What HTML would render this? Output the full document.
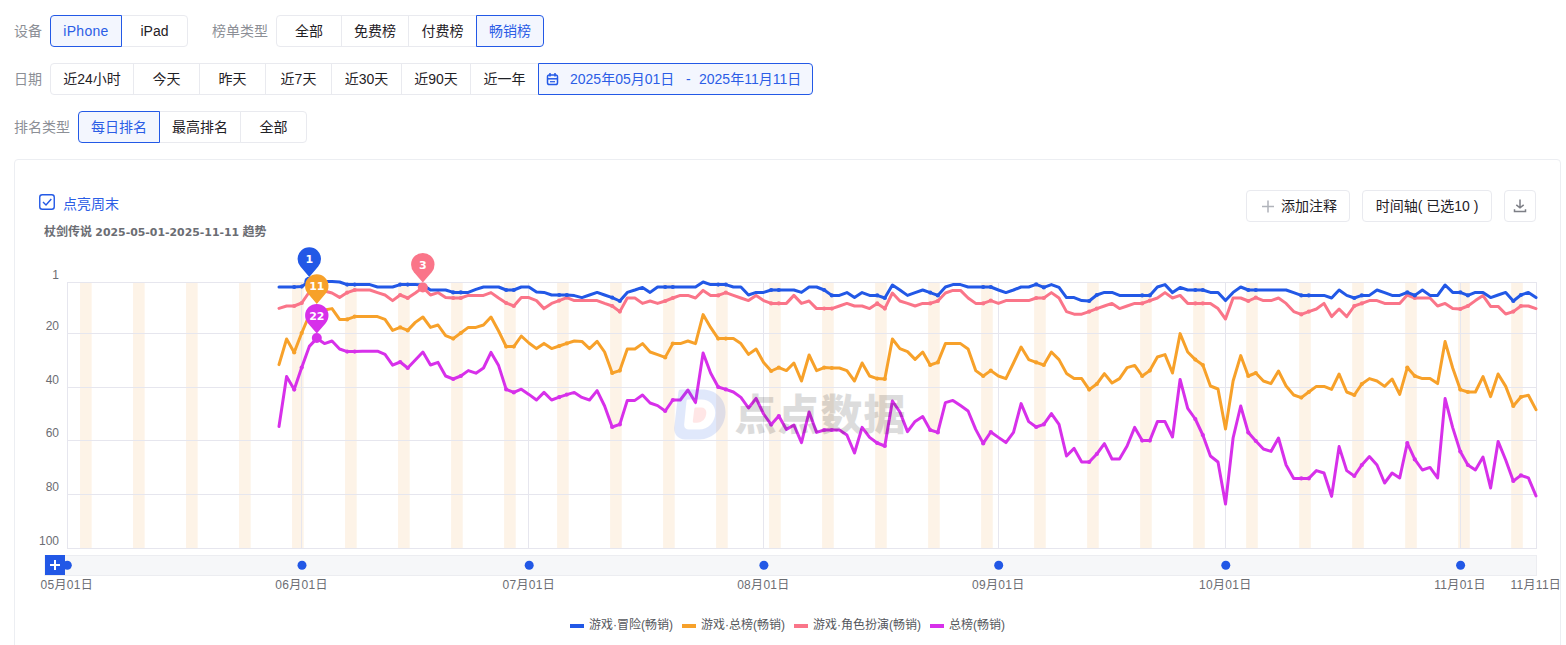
<!DOCTYPE html><html lang="zh-CN"><head><meta charset="utf-8"><title>趋势</title><style>
*{box-sizing:border-box;margin:0;padding:0}
html,body{width:1566px;height:645px;overflow:hidden;background:#fff}
body{font-family:"Liberation Sans","Noto Sans CJK SC",sans-serif;font-size:14px;color:#222;position:relative}
.lbl{position:absolute;left:14px;height:32px;line-height:32px;font-size:14px;color:#8c8f96;white-space:nowrap}
.b{position:absolute;height:32px;line-height:30px;border:1px solid #e9eaef;background:#fff;text-align:center;font-size:14px;color:#1f2126;white-space:nowrap}
.b.f{border-radius:4px 0 0 4px}
.b.l{border-radius:0 4px 4px 0}
.b.a{border-color:#2359e6;background:#f3f6fe;color:#2b5de6;z-index:2}
.card{position:absolute;left:14px;top:159px;width:1547px;height:520px;border:1px solid #eceef2;border-radius:4px;background:#fff}
.btn{position:absolute;top:190px;height:32px;line-height:30px;border:1px solid #e9eaef;border-radius:4px;background:#fff;font-size:14px;color:#1f2126;text-align:center;white-space:nowrap}
svg{position:absolute;left:0;top:0;z-index:5}
svg text{font-family:"Liberation Sans","Noto Sans CJK SC",sans-serif}
</style></head><body>
<div class="lbl" style="top:15px">设备</div>
<div class="b a f" style="left:50px;top:15px;width:72px"><span style="letter-spacing:.3px">iPhone</span></div>
<div class="b l" style="left:121px;top:15px;width:67px">iPad</div>
<div class="lbl" style="top:15px;left:212px">榜单类型</div>
<div class="b f" style="left:276px;top:15px;width:66px">全部</div>
<div class="b " style="left:341px;top:15px;width:68px">免费榜</div>
<div class="b " style="left:408px;top:15px;width:69px">付费榜</div>
<div class="b a l" style="left:476px;top:15px;width:68px">畅销榜</div>
<div class="lbl" style="top:63px">日期</div>
<div class="b f" style="left:50px;top:63px;width:84px">近24小时</div>
<div class="b " style="left:133px;top:63px;width:67px">今天</div>
<div class="b " style="left:199px;top:63px;width:67px">昨天</div>
<div class="b " style="left:265px;top:63px;width:67px">近7天</div>
<div class="b " style="left:331px;top:63px;width:71px">近30天</div>
<div class="b " style="left:401px;top:63px;width:70px">近90天</div>
<div class="b " style="left:470px;top:63px;width:69px">近一年</div>
<div class="b a l" style="left:538px;top:63px;width:275px;text-align:left"><span style="position:absolute;left:31px;top:0">2025年05月01日</span><span style="position:absolute;left:147px;top:0">-</span><span style="position:absolute;left:160px;top:0">2025年11月11日</span></div>
<div class="lbl" style="top:111px">排名类型</div>
<div class="b a f" style="left:78px;top:111px;width:82px">每日排名</div>
<div class="b " style="left:159px;top:111px;width:82px">最高排名</div>
<div class="b l" style="left:240px;top:111px;width:67px">全部</div>
<div class="card"></div>
<div style="position:absolute;left:63px;top:195px;height:18px;line-height:18px;font-size:14px;color:#2b5de6">点亮周末</div>
<div style="position:absolute;left:44px;top:224px;height:16px;line-height:16px;font-size:12px;font-weight:bold;color:#6b6d73;white-space:nowrap">杖剑传说 <span style="font-family:'DejaVu Sans',sans-serif;font-size:10.9px">2025-05-01-2025-11-11</span> 趋势</div>
<div class="btn" style="left:1246px;width:104px;padding-left:22px">添加注释</div>
<div class="btn" style="left:1362px;width:130px">时间轴( 已选10 )</div>
<div class="btn" style="left:1504px;width:32px"></div>
<svg width="1566" height="645" viewBox="0 0 1566 645">
<g fill="none" stroke="#2359e6" stroke-width="1.5"><rect x="547.5" y="75" width="10" height="9.5" rx="1.8"/><line x1="550" y1="73" x2="550" y2="76.5"/><line x1="555" y1="73" x2="555" y2="76.5"/><line x1="547.5" y1="78.8" x2="557.5" y2="78.8"/><line x1="550" y1="81.7" x2="555" y2="81.7" stroke-width="1.2"/></g>
<rect x="39.75" y="194.75" width="14.5" height="14.5" rx="2.5" fill="#fff" stroke="#2359e6" stroke-width="1.4"/><path d="M43 202 L46 205 L51.3 199" fill="none" stroke="#2359e6" stroke-width="1.4"/>
<path d="M1262 206.5h12M1268 200.5v12" stroke="#b0b3ba" stroke-width="1.5" fill="none"/>
<path d="M1520 199.5v8M1516.3 204.8l3.7 3l3.7-3M1514.5 209.2v2.3h11v-2.3" stroke="#7d7f86" stroke-width="1.5" fill="none"/>
<rect x="80.05" y="282.5" width="11.60" height="266.0" fill="#fdf3e7"/>
<rect x="133.06" y="282.5" width="11.60" height="266.0" fill="#fdf3e7"/>
<rect x="186.06" y="282.5" width="11.60" height="266.0" fill="#fdf3e7"/>
<rect x="239.07" y="282.5" width="11.60" height="266.0" fill="#fdf3e7"/>
<rect x="292.07" y="282.5" width="11.60" height="266.0" fill="#fdf3e7"/>
<rect x="345.08" y="282.5" width="11.60" height="266.0" fill="#fdf3e7"/>
<rect x="398.08" y="282.5" width="11.60" height="266.0" fill="#fdf3e7"/>
<rect x="451.09" y="282.5" width="11.60" height="266.0" fill="#fdf3e7"/>
<rect x="504.09" y="282.5" width="11.60" height="266.0" fill="#fdf3e7"/>
<rect x="557.10" y="282.5" width="11.60" height="266.0" fill="#fdf3e7"/>
<rect x="610.10" y="282.5" width="11.60" height="266.0" fill="#fdf3e7"/>
<rect x="663.11" y="282.5" width="11.60" height="266.0" fill="#fdf3e7"/>
<rect x="716.11" y="282.5" width="11.60" height="266.0" fill="#fdf3e7"/>
<rect x="769.12" y="282.5" width="11.60" height="266.0" fill="#fdf3e7"/>
<rect x="822.12" y="282.5" width="11.60" height="266.0" fill="#fdf3e7"/>
<rect x="875.13" y="282.5" width="11.60" height="266.0" fill="#fdf3e7"/>
<rect x="928.13" y="282.5" width="11.60" height="266.0" fill="#fdf3e7"/>
<rect x="981.14" y="282.5" width="11.60" height="266.0" fill="#fdf3e7"/>
<rect x="1034.14" y="282.5" width="11.60" height="266.0" fill="#fdf3e7"/>
<rect x="1087.15" y="282.5" width="11.60" height="266.0" fill="#fdf3e7"/>
<rect x="1140.15" y="282.5" width="11.60" height="266.0" fill="#fdf3e7"/>
<rect x="1193.16" y="282.5" width="11.60" height="266.0" fill="#fdf3e7"/>
<rect x="1246.16" y="282.5" width="11.60" height="266.0" fill="#fdf3e7"/>
<rect x="1299.17" y="282.5" width="11.60" height="266.0" fill="#fdf3e7"/>
<rect x="1352.17" y="282.5" width="11.60" height="266.0" fill="#fdf3e7"/>
<rect x="1405.18" y="282.5" width="11.60" height="266.0" fill="#fdf3e7"/>
<rect x="1458.19" y="282.5" width="11.60" height="266.0" fill="#fdf3e7"/>
<rect x="1511.19" y="282.5" width="11.60" height="266.0" fill="#fdf3e7"/>
<line x1="67.0" x2="1537.0" y1="282.5" y2="282.5" stroke="#e6e6ee" stroke-width="1"/>
<line x1="67.0" x2="1537.0" y1="333.5" y2="333.5" stroke="#e6e6ee" stroke-width="1"/>
<line x1="67.0" x2="1537.0" y1="387.5" y2="387.5" stroke="#e6e6ee" stroke-width="1"/>
<line x1="67.0" x2="1537.0" y1="440.5" y2="440.5" stroke="#e6e6ee" stroke-width="1"/>
<line x1="67.0" x2="1537.0" y1="494.5" y2="494.5" stroke="#e6e6ee" stroke-width="1"/>
<line x1="67.0" x2="1537.0" y1="548.5" y2="548.5" stroke="#e6e6ee" stroke-width="1"/>
<line x1="67.5" x2="67.5" y1="282.5" y2="548.5" stroke="#e6e6ee" stroke-width="1"/>
<line x1="301.5" x2="301.5" y1="282.5" y2="548.5" stroke="#e6e6ee" stroke-width="1"/>
<line x1="528.5" x2="528.5" y1="282.5" y2="548.5" stroke="#e6e6ee" stroke-width="1"/>
<line x1="763.5" x2="763.5" y1="282.5" y2="548.5" stroke="#e6e6ee" stroke-width="1"/>
<line x1="998.5" x2="998.5" y1="282.5" y2="548.5" stroke="#e6e6ee" stroke-width="1"/>
<line x1="1225.5" x2="1225.5" y1="282.5" y2="548.5" stroke="#e6e6ee" stroke-width="1"/>
<line x1="1460.5" x2="1460.5" y1="282.5" y2="548.5" stroke="#e6e6ee" stroke-width="1"/>
<line x1="1536.5" x2="1536.5" y1="282.5" y2="548.5" stroke="#e6e6ee" stroke-width="1"/>
<text x="59" y="279.0" font-size="12" fill="#6b6d73" text-anchor="end">1</text>
<text x="59" y="330.0" font-size="12" fill="#6b6d73" text-anchor="end">20</text>
<text x="59" y="384.0" font-size="12" fill="#6b6d73" text-anchor="end">40</text>
<text x="59" y="437.0" font-size="12" fill="#6b6d73" text-anchor="end">60</text>
<text x="59" y="491.0" font-size="12" fill="#6b6d73" text-anchor="end">80</text>
<text x="59" y="545.0" font-size="12" fill="#6b6d73" text-anchor="end">100</text>
<polyline fill="none" stroke="#d730ea" stroke-width="3" stroke-linejoin="round" stroke-linecap="round" points="279.0,426.4 286.6,376.4 294.2,389.6 301.7,367.6 309.3,346.4 316.9,338.4 324.5,343.6 332.0,341.0 339.6,349.0 347.2,351.6 354.7,351.6 362.3,351.2 369.9,351.2 377.5,351.2 385.0,354.4 392.6,365.2 400.2,362.0 407.7,368.0 415.3,360.0 422.9,352.0 430.5,365.0 438.0,362.4 445.6,376.0 453.2,379.0 460.8,376.0 468.3,370.6 475.9,373.2 483.5,368.0 491.0,352.4 498.6,365.6 506.2,389.4 513.8,392.4 521.3,389.2 528.9,394.4 536.5,400.0 544.0,392.4 551.6,400.0 559.2,397.2 566.8,394.6 574.3,392.4 581.9,397.4 589.5,400.0 597.1,390.6 604.6,406.0 612.2,427.0 619.8,424.4 627.3,400.4 634.9,400.4 642.5,395.0 650.1,403.0 657.6,405.6 665.2,411.0 672.8,400.0 680.3,400.0 687.9,390.0 695.5,402.6 703.1,353.0 710.6,373.0 718.2,387.0 725.8,389.4 733.4,392.0 740.9,397.4 748.5,408.0 756.1,398.4 763.6,414.0 771.2,424.6 778.8,416.0 786.4,429.4 793.9,425.0 801.5,442.6 809.1,412.0 816.6,432.4 824.2,430.0 831.8,430.0 839.4,430.0 846.9,435.0 854.5,453.0 862.1,427.4 869.6,437.4 877.2,443.0 884.8,446.0 892.4,401.0 899.9,412.0 907.5,431.6 915.1,421.4 922.7,416.6 930.2,430.0 937.8,432.4 945.4,402.6 952.9,400.4 960.5,405.6 968.1,411.0 975.7,429.4 983.2,443.4 990.8,432.0 998.4,437.4 1005.9,442.6 1013.5,432.4 1021.1,403.6 1028.7,421.6 1036.2,427.0 1043.8,424.4 1051.4,413.6 1059.0,424.4 1066.5,456.0 1074.1,448.4 1081.7,462.0 1089.2,462.0 1096.8,454.0 1104.4,443.6 1112.0,459.0 1119.5,459.0 1127.1,446.0 1134.7,427.4 1142.2,440.6 1149.8,440.6 1157.4,421.6 1165.0,421.6 1172.5,437.0 1180.1,379.4 1187.7,408.4 1195.3,419.0 1202.8,435.0 1210.4,456.0 1218.0,462.0 1225.5,504.0 1233.1,438.0 1240.7,406.0 1248.3,432.6 1255.8,441.0 1263.4,449.0 1271.0,451.4 1278.5,438.0 1286.1,465.0 1293.7,478.4 1301.3,478.4 1308.8,478.4 1316.4,470.6 1324.0,473.0 1331.6,496.4 1339.1,446.6 1346.7,470.6 1354.3,476.0 1361.8,465.0 1369.4,456.6 1377.0,465.0 1384.6,483.0 1392.1,473.0 1399.7,478.0 1407.3,443.0 1414.8,459.4 1422.4,470.0 1430.0,467.4 1437.6,478.0 1445.1,398.6 1452.7,427.6 1460.3,451.6 1467.9,465.0 1475.4,470.0 1483.0,457.0 1490.6,488.0 1498.1,441.4 1505.7,460.0 1513.3,481.0 1520.9,475.4 1528.4,477.9 1536.0,495.9"/><g fill="#d730ea"><circle cx="294.2" cy="389.6" r="2.1"/><circle cx="301.7" cy="367.6" r="2.1"/><circle cx="347.2" cy="351.6" r="2.1"/><circle cx="354.7" cy="351.6" r="2.1"/><circle cx="400.2" cy="362.0" r="2.1"/><circle cx="407.7" cy="368.0" r="2.1"/><circle cx="453.2" cy="379.0" r="2.1"/><circle cx="460.8" cy="376.0" r="2.1"/><circle cx="506.2" cy="389.4" r="2.1"/><circle cx="513.8" cy="392.4" r="2.1"/><circle cx="559.2" cy="397.2" r="2.1"/><circle cx="566.8" cy="394.6" r="2.1"/><circle cx="612.2" cy="427.0" r="2.1"/><circle cx="619.8" cy="424.4" r="2.1"/><circle cx="665.2" cy="411.0" r="2.1"/><circle cx="672.8" cy="400.0" r="2.1"/><circle cx="718.2" cy="387.0" r="2.1"/><circle cx="725.8" cy="389.4" r="2.1"/><circle cx="771.2" cy="424.6" r="2.1"/><circle cx="778.8" cy="416.0" r="2.1"/><circle cx="824.2" cy="430.0" r="2.1"/><circle cx="831.8" cy="430.0" r="2.1"/><circle cx="877.2" cy="443.0" r="2.1"/><circle cx="884.8" cy="446.0" r="2.1"/><circle cx="930.2" cy="430.0" r="2.1"/><circle cx="937.8" cy="432.4" r="2.1"/><circle cx="983.2" cy="443.4" r="2.1"/><circle cx="990.8" cy="432.0" r="2.1"/><circle cx="1036.2" cy="427.0" r="2.1"/><circle cx="1043.8" cy="424.4" r="2.1"/><circle cx="1089.2" cy="462.0" r="2.1"/><circle cx="1096.8" cy="454.0" r="2.1"/><circle cx="1142.2" cy="440.6" r="2.1"/><circle cx="1149.8" cy="440.6" r="2.1"/><circle cx="1195.3" cy="419.0" r="2.1"/><circle cx="1202.8" cy="435.0" r="2.1"/><circle cx="1248.3" cy="432.6" r="2.1"/><circle cx="1255.8" cy="441.0" r="2.1"/><circle cx="1301.3" cy="478.4" r="2.1"/><circle cx="1308.8" cy="478.4" r="2.1"/><circle cx="1354.3" cy="476.0" r="2.1"/><circle cx="1361.8" cy="465.0" r="2.1"/><circle cx="1407.3" cy="443.0" r="2.1"/><circle cx="1414.8" cy="459.4" r="2.1"/><circle cx="1460.3" cy="451.6" r="2.1"/><circle cx="1467.9" cy="465.0" r="2.1"/><circle cx="1513.3" cy="481.0" r="2.1"/><circle cx="1520.9" cy="475.4" r="2.1"/></g>
<polyline fill="none" stroke="#f7a12a" stroke-width="3" stroke-linejoin="round" stroke-linecap="round" points="279.0,364.6 286.6,339.0 294.2,352.4 301.7,333.0 309.3,315.0 316.9,309.0 324.5,310.0 332.0,308.6 339.6,319.4 347.2,319.4 354.7,316.6 362.3,316.6 369.9,316.6 377.5,316.6 385.0,319.4 392.6,330.4 400.2,327.4 407.7,330.4 415.3,322.4 422.9,317.0 430.5,327.4 438.0,325.0 445.6,335.6 453.2,338.6 460.8,333.0 468.3,327.4 475.9,327.4 483.5,325.0 491.0,317.0 498.6,331.0 506.2,346.6 513.8,346.6 521.3,336.0 528.9,343.0 536.5,348.6 544.0,343.4 551.6,348.6 559.2,346.0 566.8,343.4 574.3,341.0 581.9,341.4 589.5,348.6 597.1,341.4 604.6,352.0 612.2,373.0 619.8,370.6 627.3,349.0 634.9,349.0 642.5,343.6 650.1,352.0 657.6,354.6 665.2,357.4 672.8,343.6 680.3,343.6 687.9,341.0 695.5,343.6 703.1,314.6 710.6,327.4 718.2,338.6 725.8,338.6 733.4,338.6 740.9,343.6 748.5,354.4 756.1,349.0 763.6,362.4 771.2,371.0 778.8,367.6 786.4,370.6 793.9,363.0 801.5,381.0 809.1,355.0 816.6,370.6 824.2,367.6 831.8,368.0 839.4,368.0 846.9,370.6 854.5,381.0 862.1,363.0 869.6,376.0 877.2,378.6 884.8,379.0 892.4,339.0 899.9,348.6 907.5,351.6 915.1,359.4 922.7,352.0 930.2,365.0 937.8,362.4 945.4,343.6 952.9,343.6 960.5,343.6 968.1,349.0 975.7,370.6 983.2,376.0 990.8,370.6 998.4,376.0 1005.9,378.6 1013.5,363.0 1021.1,347.0 1028.7,359.6 1036.2,362.4 1043.8,365.0 1051.4,352.0 1059.0,359.6 1066.5,373.4 1074.1,378.6 1081.7,378.6 1089.2,389.6 1096.8,384.0 1104.4,373.6 1112.0,383.0 1119.5,378.6 1127.1,367.6 1134.7,365.4 1142.2,376.0 1149.8,370.6 1157.4,357.0 1165.0,354.6 1172.5,373.0 1180.1,333.6 1187.7,352.0 1195.3,359.6 1202.8,365.0 1210.4,386.0 1218.0,389.0 1225.5,429.0 1233.1,381.0 1240.7,355.6 1248.3,376.0 1255.8,373.0 1263.4,381.0 1271.0,383.6 1278.5,371.0 1286.1,386.0 1293.7,395.0 1301.3,397.6 1308.8,392.0 1316.4,386.4 1324.0,386.4 1331.6,389.4 1339.1,374.0 1346.7,392.0 1354.3,395.0 1361.8,384.0 1369.4,378.6 1377.0,381.0 1384.6,386.4 1392.1,379.0 1399.7,394.4 1407.3,367.6 1414.8,376.0 1422.4,378.6 1430.0,378.6 1437.6,383.6 1445.1,341.6 1452.7,368.0 1460.3,389.6 1467.9,392.0 1475.4,392.0 1483.0,376.6 1490.6,396.6 1498.1,374.0 1505.7,386.4 1513.3,406.0 1520.9,397.0 1528.4,395.2 1536.0,409.6"/><g fill="#f7a12a"><circle cx="294.2" cy="352.4" r="2.1"/><circle cx="301.7" cy="333.0" r="2.1"/><circle cx="347.2" cy="319.4" r="2.1"/><circle cx="354.7" cy="316.6" r="2.1"/><circle cx="400.2" cy="327.4" r="2.1"/><circle cx="407.7" cy="330.4" r="2.1"/><circle cx="453.2" cy="338.6" r="2.1"/><circle cx="460.8" cy="333.0" r="2.1"/><circle cx="506.2" cy="346.6" r="2.1"/><circle cx="513.8" cy="346.6" r="2.1"/><circle cx="559.2" cy="346.0" r="2.1"/><circle cx="566.8" cy="343.4" r="2.1"/><circle cx="612.2" cy="373.0" r="2.1"/><circle cx="619.8" cy="370.6" r="2.1"/><circle cx="665.2" cy="357.4" r="2.1"/><circle cx="672.8" cy="343.6" r="2.1"/><circle cx="718.2" cy="338.6" r="2.1"/><circle cx="725.8" cy="338.6" r="2.1"/><circle cx="771.2" cy="371.0" r="2.1"/><circle cx="778.8" cy="367.6" r="2.1"/><circle cx="824.2" cy="367.6" r="2.1"/><circle cx="831.8" cy="368.0" r="2.1"/><circle cx="877.2" cy="378.6" r="2.1"/><circle cx="884.8" cy="379.0" r="2.1"/><circle cx="930.2" cy="365.0" r="2.1"/><circle cx="937.8" cy="362.4" r="2.1"/><circle cx="983.2" cy="376.0" r="2.1"/><circle cx="990.8" cy="370.6" r="2.1"/><circle cx="1036.2" cy="362.4" r="2.1"/><circle cx="1043.8" cy="365.0" r="2.1"/><circle cx="1089.2" cy="389.6" r="2.1"/><circle cx="1096.8" cy="384.0" r="2.1"/><circle cx="1142.2" cy="376.0" r="2.1"/><circle cx="1149.8" cy="370.6" r="2.1"/><circle cx="1195.3" cy="359.6" r="2.1"/><circle cx="1202.8" cy="365.0" r="2.1"/><circle cx="1248.3" cy="376.0" r="2.1"/><circle cx="1255.8" cy="373.0" r="2.1"/><circle cx="1301.3" cy="397.6" r="2.1"/><circle cx="1308.8" cy="392.0" r="2.1"/><circle cx="1354.3" cy="395.0" r="2.1"/><circle cx="1361.8" cy="384.0" r="2.1"/><circle cx="1407.3" cy="367.6" r="2.1"/><circle cx="1414.8" cy="376.0" r="2.1"/><circle cx="1460.3" cy="389.6" r="2.1"/><circle cx="1467.9" cy="392.0" r="2.1"/><circle cx="1513.3" cy="406.0" r="2.1"/><circle cx="1520.9" cy="397.0" r="2.1"/></g>
<polyline fill="none" stroke="#fa7589" stroke-width="3" stroke-linejoin="round" stroke-linecap="round" points="279.0,308.4 286.6,306.0 294.2,306.0 301.7,303.0 309.3,292.0 316.9,288.0 324.5,291.0 332.0,293.0 339.6,297.4 347.2,292.6 354.7,290.0 362.3,290.0 369.9,290.0 377.5,292.6 385.0,295.0 392.6,300.6 400.2,295.0 407.7,298.0 415.3,293.0 422.9,287.4 430.5,295.0 438.0,292.6 445.6,297.6 453.2,298.0 460.8,298.0 468.3,295.4 475.9,295.4 483.5,295.4 491.0,292.6 498.6,298.0 506.2,303.0 513.8,306.0 521.3,297.6 528.9,297.6 536.5,300.6 544.0,308.6 551.6,303.4 559.2,300.6 566.8,297.6 574.3,300.6 581.9,300.6 589.5,300.6 597.1,300.6 604.6,303.4 612.2,306.0 619.8,311.6 627.3,298.0 634.9,298.0 642.5,303.4 650.1,301.0 657.6,303.4 665.2,301.0 672.8,298.0 680.3,295.4 687.9,295.4 695.5,298.0 703.1,290.4 710.6,295.4 718.2,295.4 725.8,292.6 733.4,295.4 740.9,298.0 748.5,300.6 756.1,295.4 763.6,300.6 771.2,303.4 778.8,303.4 786.4,303.4 793.9,295.4 801.5,303.4 809.1,301.0 816.6,308.6 824.2,308.6 831.8,308.6 839.4,306.0 846.9,303.4 854.5,306.0 862.1,306.0 869.6,308.6 877.2,303.4 884.8,308.6 892.4,293.0 899.9,301.0 907.5,303.4 915.1,306.0 922.7,303.4 930.2,303.4 937.8,301.0 945.4,293.0 952.9,290.4 960.5,290.4 968.1,298.0 975.7,303.4 983.2,303.4 990.8,300.6 998.4,303.4 1005.9,300.6 1013.5,300.6 1021.1,300.6 1028.7,300.6 1036.2,298.0 1043.8,298.0 1051.4,292.6 1059.0,298.0 1066.5,311.6 1074.1,314.2 1081.7,314.2 1089.2,311.6 1096.8,308.6 1104.4,306.0 1112.0,303.4 1119.5,308.6 1127.1,306.0 1134.7,303.4 1142.2,303.4 1149.8,300.6 1157.4,298.0 1165.0,292.6 1172.5,298.0 1180.1,295.4 1187.7,303.4 1195.3,303.4 1202.8,303.4 1210.4,303.4 1218.0,308.6 1225.5,319.0 1233.1,298.0 1240.7,298.0 1248.3,301.0 1255.8,297.6 1263.4,300.6 1271.0,300.6 1278.5,298.0 1286.1,303.4 1293.7,311.6 1301.3,314.4 1308.8,311.6 1316.4,309.0 1324.0,303.4 1331.6,316.6 1339.1,309.0 1346.7,316.6 1354.3,306.0 1361.8,303.4 1369.4,300.6 1377.0,300.6 1384.6,303.4 1392.1,303.4 1399.7,303.4 1407.3,295.0 1414.8,298.0 1422.4,298.0 1430.0,298.0 1437.6,306.0 1445.1,303.4 1452.7,308.6 1460.3,309.0 1467.9,306.0 1475.4,300.6 1483.0,295.6 1490.6,306.4 1498.1,306.4 1505.7,314.0 1513.3,311.6 1520.9,306.0 1528.4,306.0 1536.0,308.6"/><g fill="#fa7589"><circle cx="294.2" cy="306.0" r="2.1"/><circle cx="301.7" cy="303.0" r="2.1"/><circle cx="347.2" cy="292.6" r="2.1"/><circle cx="354.7" cy="290.0" r="2.1"/><circle cx="400.2" cy="295.0" r="2.1"/><circle cx="407.7" cy="298.0" r="2.1"/><circle cx="453.2" cy="298.0" r="2.1"/><circle cx="460.8" cy="298.0" r="2.1"/><circle cx="506.2" cy="303.0" r="2.1"/><circle cx="513.8" cy="306.0" r="2.1"/><circle cx="559.2" cy="300.6" r="2.1"/><circle cx="566.8" cy="297.6" r="2.1"/><circle cx="612.2" cy="306.0" r="2.1"/><circle cx="619.8" cy="311.6" r="2.1"/><circle cx="665.2" cy="301.0" r="2.1"/><circle cx="672.8" cy="298.0" r="2.1"/><circle cx="718.2" cy="295.4" r="2.1"/><circle cx="725.8" cy="292.6" r="2.1"/><circle cx="771.2" cy="303.4" r="2.1"/><circle cx="778.8" cy="303.4" r="2.1"/><circle cx="824.2" cy="308.6" r="2.1"/><circle cx="831.8" cy="308.6" r="2.1"/><circle cx="877.2" cy="303.4" r="2.1"/><circle cx="884.8" cy="308.6" r="2.1"/><circle cx="930.2" cy="303.4" r="2.1"/><circle cx="937.8" cy="301.0" r="2.1"/><circle cx="983.2" cy="303.4" r="2.1"/><circle cx="990.8" cy="300.6" r="2.1"/><circle cx="1036.2" cy="298.0" r="2.1"/><circle cx="1043.8" cy="298.0" r="2.1"/><circle cx="1089.2" cy="311.6" r="2.1"/><circle cx="1096.8" cy="308.6" r="2.1"/><circle cx="1142.2" cy="303.4" r="2.1"/><circle cx="1149.8" cy="300.6" r="2.1"/><circle cx="1195.3" cy="303.4" r="2.1"/><circle cx="1202.8" cy="303.4" r="2.1"/><circle cx="1248.3" cy="301.0" r="2.1"/><circle cx="1255.8" cy="297.6" r="2.1"/><circle cx="1301.3" cy="314.4" r="2.1"/><circle cx="1308.8" cy="311.6" r="2.1"/><circle cx="1354.3" cy="306.0" r="2.1"/><circle cx="1361.8" cy="303.4" r="2.1"/><circle cx="1407.3" cy="295.0" r="2.1"/><circle cx="1414.8" cy="298.0" r="2.1"/><circle cx="1460.3" cy="309.0" r="2.1"/><circle cx="1467.9" cy="306.0" r="2.1"/><circle cx="1513.3" cy="311.6" r="2.1"/><circle cx="1520.9" cy="306.0" r="2.1"/></g>
<polyline fill="none" stroke="#2258e6" stroke-width="3" stroke-linejoin="round" stroke-linecap="round" points="279.0,287.0 286.6,287.0 294.2,287.0 301.7,286.6 309.3,281.6 316.9,281.6 324.5,281.6 332.0,281.6 339.6,282.0 347.2,284.6 354.7,284.6 362.3,284.6 369.9,284.6 377.5,287.0 385.0,287.0 392.6,287.0 400.2,284.6 407.7,284.6 415.3,284.6 422.9,285.0 430.5,290.0 438.0,290.0 445.6,290.0 453.2,292.4 460.8,292.4 468.3,292.4 475.9,289.4 483.5,287.0 491.0,287.0 498.6,287.0 506.2,290.0 513.8,290.0 521.3,287.0 528.9,287.0 536.5,292.0 544.0,292.4 551.6,295.0 559.2,295.0 566.8,295.0 574.3,295.6 581.9,297.6 589.5,295.0 597.1,292.4 604.6,295.0 612.2,297.6 619.8,301.0 627.3,292.4 634.9,290.0 642.5,287.4 650.1,292.4 657.6,287.0 665.2,287.0 672.8,287.0 680.3,287.0 687.9,287.0 695.5,287.0 703.1,282.0 710.6,284.6 718.2,284.6 725.8,284.6 733.4,287.0 740.9,287.0 748.5,295.0 756.1,292.4 763.6,292.4 771.2,290.0 778.8,290.0 786.4,290.0 793.9,290.0 801.5,292.4 809.1,287.0 816.6,287.0 824.2,290.0 831.8,295.4 839.4,295.4 846.9,292.6 854.5,297.6 862.1,292.6 869.6,295.4 877.2,295.4 884.8,298.0 892.4,285.0 899.9,290.0 907.5,295.4 915.1,292.6 922.7,290.0 930.2,292.6 937.8,295.4 945.4,287.0 952.9,284.6 960.5,284.6 968.1,287.0 975.7,287.0 983.2,287.0 990.8,287.0 998.4,290.0 1005.9,292.6 1013.5,290.0 1021.1,287.0 1028.7,287.0 1036.2,284.4 1043.8,287.4 1051.4,284.6 1059.0,287.4 1066.5,297.6 1074.1,297.6 1081.7,300.6 1089.2,301.0 1096.8,295.0 1104.4,292.4 1112.0,292.4 1119.5,295.4 1127.1,295.4 1134.7,295.4 1142.2,295.4 1149.8,295.4 1157.4,287.0 1165.0,284.6 1172.5,292.6 1180.1,287.4 1187.7,290.0 1195.3,290.0 1202.8,290.0 1210.4,292.4 1218.0,292.4 1225.5,300.6 1233.1,292.4 1240.7,287.0 1248.3,290.0 1255.8,290.0 1263.4,290.0 1271.0,290.0 1278.5,290.0 1286.1,290.0 1293.7,292.6 1301.3,295.4 1308.8,295.4 1316.4,295.4 1324.0,295.4 1331.6,298.0 1339.1,290.0 1346.7,295.4 1354.3,298.0 1361.8,295.4 1369.4,295.4 1377.0,290.0 1384.6,292.6 1392.1,295.4 1399.7,295.4 1407.3,292.4 1414.8,295.4 1422.4,290.0 1430.0,295.4 1437.6,295.4 1445.1,285.0 1452.7,292.4 1460.3,292.4 1467.9,295.4 1475.4,292.4 1483.0,292.4 1490.6,297.6 1498.1,295.0 1505.7,292.4 1513.3,301.0 1520.9,295.0 1528.4,292.4 1536.0,297.6"/><g fill="#2258e6"><circle cx="294.2" cy="287.0" r="2.1"/><circle cx="301.7" cy="286.6" r="2.1"/><circle cx="347.2" cy="284.6" r="2.1"/><circle cx="354.7" cy="284.6" r="2.1"/><circle cx="400.2" cy="284.6" r="2.1"/><circle cx="407.7" cy="284.6" r="2.1"/><circle cx="453.2" cy="292.4" r="2.1"/><circle cx="460.8" cy="292.4" r="2.1"/><circle cx="506.2" cy="290.0" r="2.1"/><circle cx="513.8" cy="290.0" r="2.1"/><circle cx="559.2" cy="295.0" r="2.1"/><circle cx="566.8" cy="295.0" r="2.1"/><circle cx="612.2" cy="297.6" r="2.1"/><circle cx="619.8" cy="301.0" r="2.1"/><circle cx="665.2" cy="287.0" r="2.1"/><circle cx="672.8" cy="287.0" r="2.1"/><circle cx="718.2" cy="284.6" r="2.1"/><circle cx="725.8" cy="284.6" r="2.1"/><circle cx="771.2" cy="290.0" r="2.1"/><circle cx="778.8" cy="290.0" r="2.1"/><circle cx="824.2" cy="290.0" r="2.1"/><circle cx="831.8" cy="295.4" r="2.1"/><circle cx="877.2" cy="295.4" r="2.1"/><circle cx="884.8" cy="298.0" r="2.1"/><circle cx="930.2" cy="292.6" r="2.1"/><circle cx="937.8" cy="295.4" r="2.1"/><circle cx="983.2" cy="287.0" r="2.1"/><circle cx="990.8" cy="287.0" r="2.1"/><circle cx="1036.2" cy="284.4" r="2.1"/><circle cx="1043.8" cy="287.4" r="2.1"/><circle cx="1089.2" cy="301.0" r="2.1"/><circle cx="1096.8" cy="295.0" r="2.1"/><circle cx="1142.2" cy="295.4" r="2.1"/><circle cx="1149.8" cy="295.4" r="2.1"/><circle cx="1195.3" cy="290.0" r="2.1"/><circle cx="1202.8" cy="290.0" r="2.1"/><circle cx="1248.3" cy="290.0" r="2.1"/><circle cx="1255.8" cy="290.0" r="2.1"/><circle cx="1301.3" cy="295.4" r="2.1"/><circle cx="1308.8" cy="295.4" r="2.1"/><circle cx="1354.3" cy="298.0" r="2.1"/><circle cx="1361.8" cy="295.4" r="2.1"/><circle cx="1407.3" cy="292.4" r="2.1"/><circle cx="1414.8" cy="295.4" r="2.1"/><circle cx="1460.3" cy="292.4" r="2.1"/><circle cx="1467.9" cy="295.4" r="2.1"/><circle cx="1513.3" cy="301.0" r="2.1"/><circle cx="1520.9" cy="295.0" r="2.1"/></g>
<g opacity="0.135"><path fill-rule="evenodd" fill="#2258e6" d="M681,389.5 H702 C716,389.5 725.5,399 725.5,412 C725.5,427 713,439.5 699,439.5 H685 C678,439.5 673.5,434 674.3,427 L678.3,393 C678.6,390.5 679,389.5 681,389.5 Z M688.5,399.5 H701.5 C709.5,399.5 715.3,405 715.3,412.7 C715.3,422 708,429.5 699.3,429.5 H689 C685.5,429.5 683.8,427.5 684.2,424 L686.4,402 C686.6,400 687,399.5 688.5,399.5 Z"/><path fill="#ff4d4d" d="M696,407.5 H701 C704.5,407.5 706.3,409.5 706.3,412.5 C706.3,418.5 702,422.8 697,422.8 H694.5 C693.2,422.8 692.7,422 692.9,420.5 L694.3,409 C694.5,408 695,407.5 696,407.5 Z"/></g>
<text x="734.5" y="430" font-size="42" font-weight="900" fill="#000" opacity="0.135" textLength="171" lengthAdjust="spacing" style="font-family:'Noto Sans CJK SC',sans-serif">点点数据</text>
<path d="M300.41,266.61 A11.7 11.7 0 1 1 318.19,266.61 L309.3,277 Z" fill="#2258e6"/><circle cx="309.3" cy="281.8" r="5" fill="#2258e6"/><text x="309.3" y="263.1" font-size="11" font-weight="bold" fill="#fff" text-anchor="middle" style="font-family:'DejaVu Sans','Liberation Sans',sans-serif">1</text>
<path d="M413.91,272.21 A11.7 11.7 0 1 1 431.69,272.21 L422.8,282.6 Z" fill="#fa7589"/><circle cx="422.8" cy="287.4" r="5" fill="#fa7589"/><text x="422.8" y="268.70000000000005" font-size="11" font-weight="bold" fill="#fff" text-anchor="middle" style="font-family:'DejaVu Sans','Liberation Sans',sans-serif">3</text>
<path d="M307.91,293.61 A11.7 11.7 0 1 1 325.69,293.61 L316.8,304 Z" fill="#f7a12a"/><text x="316.8" y="290.1" font-size="11" font-weight="bold" fill="#fff" text-anchor="middle" style="font-family:'DejaVu Sans','Liberation Sans',sans-serif">11</text>
<path d="M307.91,323.21 A11.7 11.7 0 1 1 325.69,323.21 L316.8,333.6 Z" fill="#d730ea"/><circle cx="316.8" cy="338" r="5" fill="#d730ea"/><text x="316.8" y="319.70000000000005" font-size="11" font-weight="bold" fill="#fff" text-anchor="middle" style="font-family:'DejaVu Sans','Liberation Sans',sans-serif">22</text>
<rect x="45" y="555.5" width="1491.5" height="20" fill="#f6f7f9" stroke="#ecedf1" stroke-width="1"/>
<rect x="45" y="555" width="20" height="20" fill="#2258e6"/><path d="M50 565h10M55 560v10" stroke="#fff" stroke-width="2" fill="none"/>
<circle cx="67.3" cy="565.3" r="4.5" fill="#2258e6"/>
<text x="66.8" y="589" font-size="12" fill="#6b6d73" text-anchor="middle" letter-spacing=".3">05月01日</text>
<circle cx="302.0" cy="565.3" r="4.5" fill="#2258e6"/>
<text x="301.5" y="589" font-size="12" fill="#6b6d73" text-anchor="middle" letter-spacing=".3">06月01日</text>
<circle cx="529.2" cy="565.3" r="4.5" fill="#2258e6"/>
<text x="528.7" y="589" font-size="12" fill="#6b6d73" text-anchor="middle" letter-spacing=".3">07月01日</text>
<circle cx="763.9" cy="565.3" r="4.5" fill="#2258e6"/>
<text x="763.4" y="589" font-size="12" fill="#6b6d73" text-anchor="middle" letter-spacing=".3">08月01日</text>
<circle cx="998.7" cy="565.3" r="4.5" fill="#2258e6"/>
<text x="998.2" y="589" font-size="12" fill="#6b6d73" text-anchor="middle" letter-spacing=".3">09月01日</text>
<circle cx="1225.8" cy="565.3" r="4.5" fill="#2258e6"/>
<text x="1225.3" y="589" font-size="12" fill="#6b6d73" text-anchor="middle" letter-spacing=".3">10月01日</text>
<circle cx="1460.6" cy="565.3" r="4.5" fill="#2258e6"/>
<text x="1460.1" y="589" font-size="12" fill="#6b6d73" text-anchor="middle" letter-spacing=".3">11月01日</text>
<text x="1535.8" y="589" font-size="12" fill="#6b6d73" text-anchor="middle" letter-spacing=".3">11月11日</text>
<rect x="570" y="624" width="14" height="4" fill="#2258e6"/><text x="589" y="628.8" font-size="12" fill="#55575d">游戏·冒险(畅销)</text>
<rect x="682" y="624" width="14" height="4" fill="#f7a12a"/><text x="701" y="628.8" font-size="12" fill="#55575d">游戏·总榜(畅销)</text>
<rect x="794" y="624" width="14" height="4" fill="#fa7589"/><text x="813" y="628.8" font-size="12" fill="#55575d">游戏·角色扮演(畅销)</text>
<rect x="930" y="624" width="14" height="4" fill="#d730ea"/><text x="949" y="628.8" font-size="12" fill="#55575d">总榜(畅销)</text>
</svg>
</body></html>
